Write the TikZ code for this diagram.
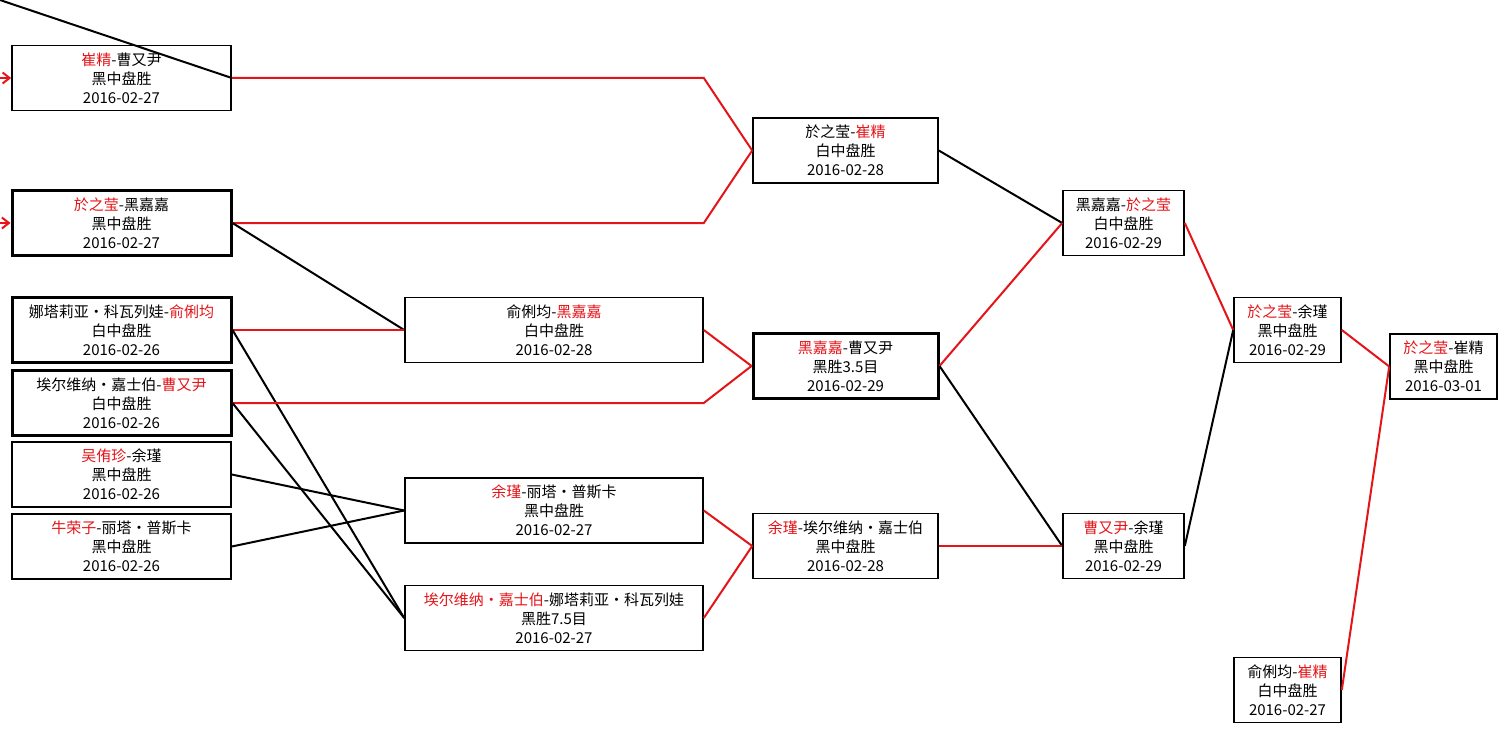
\documentclass[tikz,border=0pt]{standalone}
\usepackage{fontspec}
\setmainfont{Noto Sans CJK SC}
\usepackage{tikz}
\usetikzlibrary{positioning, arrows.meta}
\definecolor{winred}{RGB}{228,20,24}
\newcommand{\wn}[1]{\textcolor{winred}{#1}}

\begin{document}
\begin{tikzpicture}[x=1pt,y=-1pt,font=\fontsize{15}{19}\selectfont]
    \tikzstyle{game} = [rectangle, 
minimum height=65pt, 
align=center, 
inner sep=0pt,
draw=black,
line width=1.6pt]

\tikzstyle{thick game} = [game, line width=3pt]
\tikzstyle{won} = [line width=2pt, winred]
\tikzstyle{lost} = [line width=2pt, black]
\tikzstyle{arrow} = [won, -{Straight Barb[length=7pt,width=11pt]}]

\path[use as bounding box, fill=white] (0,0) rectangle (1507,733);

% round 1
\node (cuicao) [game, minimum width=219pt] at (121.5,78) {\wn{崔精}-曹又尹\\黑中盘胜\\2016-02-27};
\node (yuhei) [thick game, minimum width=219pt] at (121.5,223) {\wn{於之莹}-黑嘉嘉\\黑中盘胜\\2016-02-27};
\node (nayu) [thick game, minimum width=219pt] at (121.5,330) {娜塔莉亚•科瓦列娃-\wn{俞俐均}\\白中盘胜\\2016-02-26};
\node (aicao) [thick game, minimum width=219pt] at (121.5,403) {埃尔维纳•嘉士伯-\wn{曹又尹}\\白中盘胜\\2016-02-26};
\node (wuyu) [game, minimum width=219pt] at (121.5,474.5) {\wn{吴侑珍}-余瑾\\黑中盘胜\\2016-02-26};
\node (niuli) [game, minimum width=219pt] at (121.5,546.5) {\wn{牛荣子}-丽塔•普斯卡\\黑中盘胜\\2016-02-26};

% round 2
\node (yulihei) [game, minimum width=298pt] at (554,330) {俞俐均-\wn{黑嘉嘉}\\白中盘胜\\2016-02-28};
\node (yuli) [game, minimum width=298pt] at (554,510.5) {\wn{余瑾}-丽塔•普斯卡\\黑中盘胜\\2016-02-27};
\node (aina) [game, minimum width=298pt] at (554,618) {\wn{埃尔维纳•嘉士伯}-娜塔莉亚•科瓦列娃\\黑胜7.5目\\2016-02-27};

% round 3
\node (yucui) [game, minimum width=185pt] at (845.5,150.5) {於之莹-\wn{崔精}\\白中盘胜\\2016-02-28};
\node (heicao) [thick game, minimum width=185pt] at (845.5,366) {\wn{黑嘉嘉}-曹又尹\\黑胜3.5目\\2016-02-29};
\node (yuai) [game, minimum width=185pt] at (845.5,546) {\wn{余瑾}-埃尔维纳•嘉士伯\\黑中盘胜\\2016-02-28};

% round 4
\node (heiyu) [game, minimum width=121pt] at (1123.5,223) {黑嘉嘉-\wn{於之莹}\\白中盘胜\\2016-02-29};
\node (caoyu) [game, minimum width=121pt] at (1123.5,546) {\wn{曹又尹}-余瑾\\黑中盘胜\\2016-02-29};

% round 5 and final
\node (yuyu) [game, minimum width=107pt] at (1287.5,330) {\wn{於之莹}-余瑾\\黑中盘胜\\2016-02-29};
\node (yulicui) [game, minimum width=107pt] at (1287.5,690) {俞俐均-\wn{崔精}\\白中盘胜\\2016-02-27};
\node (final) [game, minimum width=107pt] at (1443.5,366.5) {\wn{於之莹}-崔精\\黑中盘胜\\2016-03-01};

\coordinate (topin) at (-6,-2);
\coordinate (ina) at (-20,78);
\coordinate (inb) at (-20,223);

\draw [arrow] (ina) -- (cuicao.west);
\draw [arrow] (inb) -- (yuhei.west);
\draw [lost] (topin) -- (cuicao.east);

\draw [won] (cuicao.east) -- (cuicao.east -| yulihei.east) -- (yucui.west);
\draw [won] (yuhei.east) -- (yuhei.east -| yulihei.east) -- (yucui.west);
\draw [lost] (yuhei.east) -- (yulihei.west);
\draw [won] (nayu.east) -- (yulihei.west);
\draw [lost] (nayu.east) -- (aina.west);
\draw [won] (aicao.east) -- (aicao.east -| yulihei.east) -- (heicao.west);
\draw [lost] (aicao.east) -- (aina.west);
\draw [lost] (wuyu.east) -- (yuli.west);
\draw [lost] (niuli.east) -- (yuli.west);

\draw [won] (yulihei.east) -- (heicao.west);
\draw [won] (yuli.east) -- (yuai.west);
\draw [won] (aina.east) -- (yuai.west);

\draw [lost] (yucui.east) -- (heiyu.west);
\draw [won] (heicao.east) -- (heiyu.west);
\draw [lost] (heicao.east) -- (caoyu.west);
\draw [won] (yuai.east) -- (caoyu.west);

\draw [won] (heiyu.east) -- (yuyu.west);
\draw [lost] (caoyu.east) -- (yuyu.west);
\draw [won] (yuyu.east) -- (final.west);
\draw [won] (yulicui.east) -- (final.west);

\end{tikzpicture}
\end{document}
